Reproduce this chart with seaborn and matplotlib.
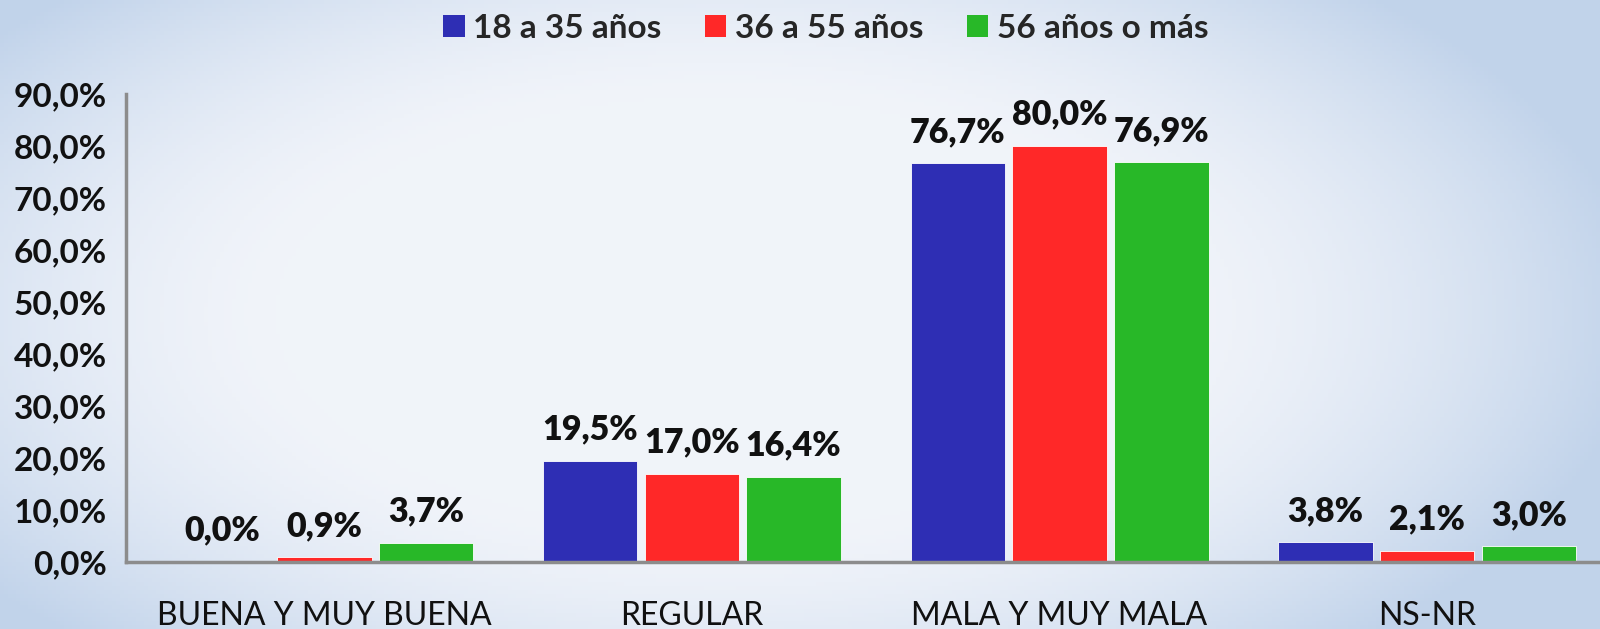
import numpy as np
import pandas as pd
import matplotlib
matplotlib.use("Agg")
import matplotlib.pyplot as plt
import seaborn as sns
from matplotlib.patches import Patch

categories = ["BUENA Y MUY BUENA", "REGULAR", "MALA Y MUY MALA", "NS-NR"]
series = ["18 a 35 años", "36 a 55 años", "56 años o más"]
v_18_35 = [0.0, 19.5, 76.7, 3.8]
v_36_55 = [0.9, 17.0, 80.0, 2.1]
v_56_mas = [3.7, 16.4, 76.9, 3.0]
yticks = [0, 10, 20, 30, 40, 50, 60, 70, 80, 90]

colors = ["#2E2EB4", "#FF2828", "#28B828"]

df = pd.DataFrame({
    "cat": categories * 3,
    "serie": [series[0]] * 4 + [series[1]] * 4 + [series[2]] * 4,
    "val": v_18_35 + v_36_55 + v_56_mas,
})

sns.set_theme(style="white")
plt.rcParams["font.family"] = ["Lato", "DejaVu Sans"]

fig = plt.figure(figsize=(16, 6.29), dpi=100)

# background gradient
bg = fig.add_axes([0, 0, 1, 1], zorder=-10)
xx, yy = np.meshgrid(np.linspace(-1, 1, 400), np.linspace(-1, 1, 160))
r = np.clip(np.sqrt(((xx + 0.1) / 1.0) ** 2 + (yy / 1.25) ** 2), 0, 1.3)
t = np.clip((r - 0.55) / 0.6, 0, 1) ** 1.5
c0 = np.array([0.945, 0.957, 0.980])
c1 = np.array([0.76, 0.83, 0.92])
img = c0[None, None, :] * (1 - t[..., None]) + c1[None, None, :] * t[..., None]
bg.imshow(img, aspect="auto", extent=[0, 1, 0, 1])
bg.axis("off")

ax = fig.add_axes([0.079, 0.1065, 0.921, 0.744])
ax.patch.set_alpha(0)
sns.barplot(data=df, x="cat", y="val", hue="serie", order=categories,
            hue_order=series, palette=colors, width=0.83, gap=0.07,
            ax=ax, legend=False, saturation=1, edgecolor="white", linewidth=0.6)

ax.set_ylim(0, 90)
ax.set_xlim(-0.538, 3.47)
ax.set_yticks(yticks)
ax.set_yticklabels([f"{v:.1f}".replace(".", ",") + "%" for v in yticks],
                   fontsize=24, fontweight="bold", color="#111111")
ax.set_xticks(range(len(categories)))
ax.set_xticklabels(categories, fontsize=23, color="#111111")
ax.tick_params(axis="x", length=0, pad=28)
ax.tick_params(axis="y", length=0, pad=14)
ax.set_xlabel("")
ax.set_ylabel("")
for s in ["top", "right"]:
    ax.spines[s].set_visible(False)
for s in ["left", "bottom"]:
    ax.spines[s].set_color("#8C8C8C")
    ax.spines[s].set_linewidth(2.5)
ax.grid(False)

for cont in ax.containers:
    labels = [f"{b.get_height():.1f}".replace(".", ",") + "%" for b in cont]
    ax.bar_label(cont, labels=labels, padding=11, fontsize=24.5,
                 fontweight="heavy", color="#111111")

handles = [Patch(facecolor=c, edgecolor="none") for c in colors]
fig.legend(handles, series, loc="center", bbox_to_anchor=(0.516, 0.955), ncol=3,
           frameon=False, prop={"weight": "bold", "size": 24},
           handlelength=0.65, handleheight=0.65, handletextpad=0.25, columnspacing=1.3)

fig.savefig("out.png", dpi=100)
